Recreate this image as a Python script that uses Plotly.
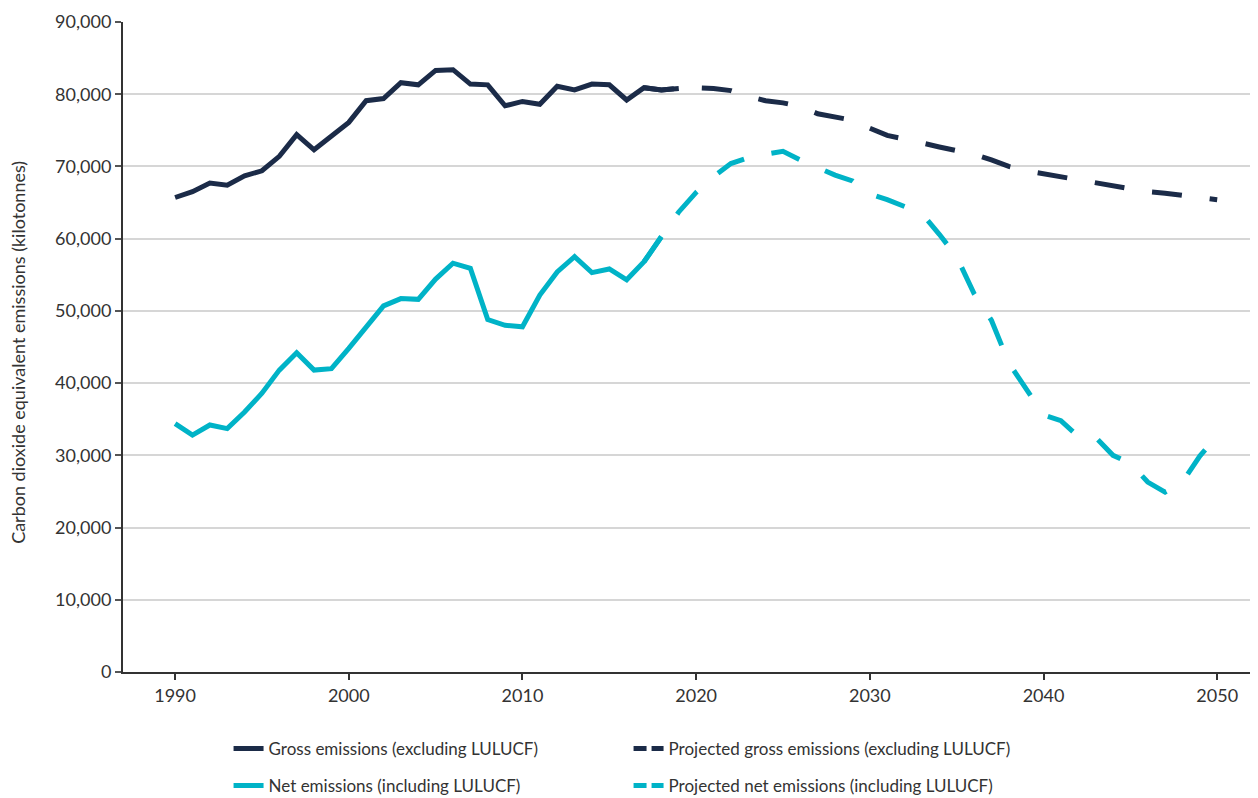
import plotly.graph_objects as go

# ---- data (kilotonnes CO2-e) ----
hist_years = list(range(1990, 2020))
gross_hist = [65700, 66500, 67700, 67400, 68700, 69400, 71400, 74400, 72300, 74100,
              76100, 79100, 79400, 81600, 81300, 83300, 83400, 81400, 81300, 78400,
              79000, 78600, 81100, 80600, 81400, 81300, 79200, 80900, 80600, 80800]

net_hist_years = list(range(1990, 2019))
net_hist = [34400, 32800, 34200, 33700, 36000, 38600, 41800, 44200, 41800, 42000,
            44800, 47800, 50700, 51700, 51600, 54400, 56600, 55900, 48800, 48000,
            47800, 52200, 55400, 57500, 55300, 55800, 54300, 56800, 60300]

proj_years = list(range(2017, 2051))
gross_proj = [80900, 80600, 80800, 80900, 80800, 80500, 79700, 79100, 78800, 78300,
              77300, 76900, 76400, 75300, 74300, 73800, 73200, 72700, 72200, 71700,
              70900, 70000, 69400, 69000, 68600, 68100, 67800, 67400, 67000, 66500,
              66300, 66000, 65700, 65400]
net_proj = [56800, 60300, 63700, 66400, 68600, 70400, 71200, 71700, 72100, 70900,
            69800, 68800, 68000, 66200, 65400, 64400, 63500, 60600, 57500, 52400,
            48700, 42800, 39300, 35600, 34800, 32600, 32500, 30000, 28900, 26300,
            24900, 26300, 29900, 32700]

y_ticks = list(range(0, 90001, 10000))
x_ticks = list(range(1990, 2051, 10))

NAVY = "#1b2b48"
CYAN = "#00b3c7"
DASH = "30px,28px"
LEG_DASH = "13px,5px"
FONT = "Lato"
TXT = "#333333"

fig = go.Figure()

fig.add_trace(go.Scatter(x=hist_years, y=gross_hist, mode="lines",
                         line=dict(color=NAVY, width=5), showlegend=False))
fig.add_trace(go.Scatter(x=net_hist_years, y=net_hist, mode="lines",
                         line=dict(color=CYAN, width=5), showlegend=False))
fig.add_trace(go.Scatter(x=proj_years, y=gross_proj, mode="lines",
                         line=dict(color=NAVY, width=5, dash=DASH), showlegend=False))
fig.add_trace(go.Scatter(x=proj_years, y=net_proj, mode="lines",
                         line=dict(color=CYAN, width=5, dash=DASH), showlegend=False))

# legend entries
fig.add_trace(go.Scatter(x=[None], y=[None], mode="lines", name="Gross emissions (excluding LULUCF)",
                         line=dict(color=NAVY, width=5), legend="legend"))
fig.add_trace(go.Scatter(x=[None], y=[None], mode="lines", name="Projected gross emissions (excluding LULUCF)",
                         line=dict(color=NAVY, width=5, dash=LEG_DASH), legend="legend"))
fig.add_trace(go.Scatter(x=[None], y=[None], mode="lines", name="Net emissions (including LULUCF)",
                         line=dict(color=CYAN, width=5), legend="legend2"))
fig.add_trace(go.Scatter(x=[None], y=[None], mode="lines", name="Projected net emissions (including LULUCF)",
                         line=dict(color=CYAN, width=5, dash=LEG_DASH), legend="legend2"))

legend_common = dict(orientation="h", xanchor="left", yanchor="middle", x=0.093,
                     entrywidth=355, entrywidthmode="pixels",
                     font=dict(family=FONT, size=17, color=TXT),
                     bgcolor="rgba(0,0,0,0)", traceorder="normal")

# page body has an 8px default margin, so the figure is drawn 8px smaller and shifted
fig.update_layout(
    width=1250, height=790,
    margin=dict(l=115, r=0, t=14, b=126, autoexpand=False),
    paper_bgcolor="white", plot_bgcolor="white",
    font=dict(family=FONT, size=15, color=TXT),
    legend=dict(y=-0.1185, **legend_common),
    legend2=dict(y=-0.1754, **legend_common),
    xaxis=dict(range=[1987, 2052.35], tickvals=x_ticks, ticktext=[str(v) for v in x_ticks],
               showgrid=False, zeroline=False, showline=True, linecolor="#333333", linewidth=2,
               ticks="outside", ticklen=6, tickwidth=1.5, tickcolor="#333333", automargin=False,
               tickfont=dict(family=FONT, size=18, color=TXT)),
    yaxis=dict(range=[0, 90000], tickvals=y_ticks, ticktext=[f"{v:,}" for v in y_ticks],
               showgrid=True, gridcolor="#d6d6d6", gridwidth=1.5, zeroline=False,
               showline=True, linecolor="#333333", linewidth=2, automargin=False,
               ticks="outside", ticklen=6, tickwidth=1.5, tickcolor="#555555",
               tickfont=dict(family=FONT, size=18, color=TXT)),
    annotations=[dict(text="Carbon dioxide equivalent emissions (kilotonnes)",
                      xref="paper", yref="paper", x=-0.0925, y=0.491, xanchor="center", yanchor="middle",
                      textangle=-90, showarrow=False,
                      font=dict(family=FONT, size=18, color=TXT))],
)

fig.write_html("out.html")
